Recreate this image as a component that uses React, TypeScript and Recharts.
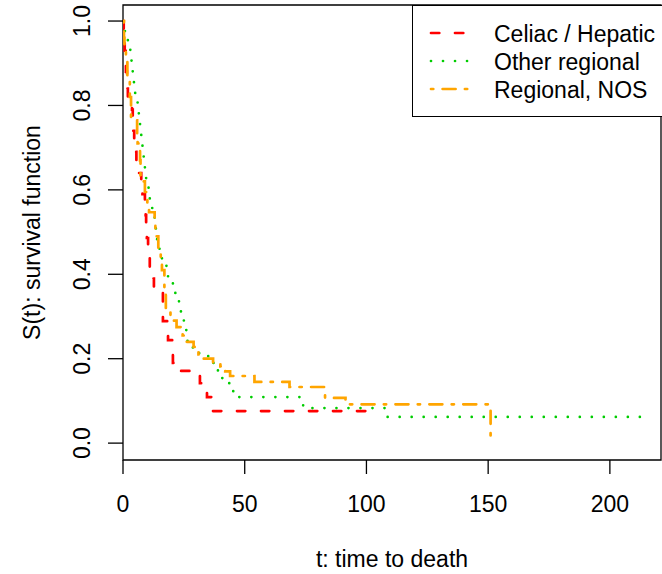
import { LineChart, Line, XAxis, YAxis, ReferenceArea } from 'recharts'

// Kaplan-Meier step estimates
const celiacT = [0, 0.3, 0.7, 1.2, 1.6, 2.0, 3.7, 4.0, 4.2, 4.6, 5.0, 5.5, 6.5, 7.5, 8.0, 9.0, 9.3, 9.5, 9.8, 10.3, 10.5, 11.0, 12.5, 12.7, 16.4, 18.5, 20.5, 22.0, 31.6, 34.5, 36.8, 100.2]
const celiacS = [1.0, 0.97, 0.93, 0.88, 0.84, 0.82, 0.79, 0.77, 0.74, 0.71, 0.69, 0.67, 0.64, 0.62, 0.59, 0.57, 0.54, 0.51, 0.486, 0.46, 0.44, 0.41, 0.39, 0.37, 0.289, 0.244, 0.19, 0.171, 0.142, 0.109, 0.076, 0.076]

const otherT = [0, 0.8, 2, 3, 3.5, 4, 4.5, 5, 6, 6.5, 7, 7.5, 8, 8.5, 9, 9.5, 10.5, 11, 12, 13, 13.5, 14, 15, 16, 18, 18.5, 20.5, 21.5, 23, 23.8, 25, 26, 26.5, 28.7, 35, 37.8, 39, 42, 44, 46.4, 74, 108, 213.8]
const otherS = [1.0, 0.97, 0.95, 0.92, 0.9, 0.87, 0.85, 0.82, 0.8, 0.77, 0.75, 0.72, 0.7, 0.67, 0.645, 0.62, 0.6, 0.57, 0.55, 0.52, 0.495, 0.47, 0.45, 0.42, 0.405, 0.38, 0.36, 0.34, 0.32, 0.3, 0.275, 0.25, 0.228, 0.213, 0.19, 0.176, 0.154, 0.142, 0.123, 0.109, 0.083, 0.062, 0.062]

const nosT = [0, 0.4, 0.6, 1.2, 1.8, 2.8, 3.3, 5.8, 6.0, 7.0, 7.2, 8.0, 9.0, 10.0, 10.7, 13.0, 13.3, 14.5, 15.5, 16.0, 17.0, 17.6, 19.5, 22.0, 24.5, 25.5, 29.0, 31.0, 33.0, 37.0, 40.0, 42.0, 44.0, 54.0, 68.4, 83.0, 91.4, 151.0]
const nosS = [1.0, 0.96, 0.93, 0.91, 0.86, 0.82, 0.765, 0.73, 0.71, 0.67, 0.635, 0.62, 0.595, 0.57, 0.547, 0.515, 0.49, 0.46, 0.43, 0.41, 0.36, 0.315, 0.29, 0.275, 0.255, 0.24, 0.228, 0.21, 0.2, 0.19, 0.182, 0.17, 0.159, 0.145, 0.133, 0.107, 0.092, 0.015]

const xTicks = [0, 50, 100, 150, 200]
const yTicks = [0, 0.2, 0.4, 0.6, 0.8, 1.0]
const xDomain = [0, 221]
const yDomain = [-0.04, 1.038]

const series = [
  { name: 'Celiac / Hepatic', t: celiacT, s: celiacS, color: '#ff0000', dash: '8.3 15.7' },
  { name: 'Other regional', t: otherT, s: otherS, color: '#00cd00', dash: '0.01 12' },
  { name: 'Regional, NOS', t: nosT, s: nosS, color: '#ffa500', dash: '2.3 9.3 13 9.3' },
]

const FONT = '"Liberation Sans", Arial, Helvetica, sans-serif'
const LW = 2.7

const toRows = (t: number[], s: number[]) => t.map((v, i) => ({ t: v, s: s[i] }))

const XTick = (props: any) => {
  const { x, y, payload } = props
  return (
    <g>
      <line x1={x} x2={x} y1={y} y2={y + 14} stroke="#000" strokeWidth={1.3} />
      <text x={x} y={y + 52} textAnchor="middle" fontSize={23} fontFamily={FONT} fill="#000">
        {payload.value}
      </text>
    </g>
  )
}

const YTick = (props: any) => {
  const { x, y, payload } = props
  const lx = x - 33
  return (
    <g>
      <line x1={x - 15} x2={x} y1={y} y2={y} stroke="#000" strokeWidth={1.3} />
      <text
        x={lx}
        y={y}
        transform={`rotate(-90 ${lx} ${y})`}
        textAnchor="middle"
        fontSize={23}
        fontFamily={FONT}
        fill="#000"
      >
        {payload.value.toFixed(1)}
      </text>
    </g>
  )
}

const XTitle = (props: any) => {
  const vb = props.viewBox
  return (
    <text x={vb.x + vb.width / 2} y={vb.y + 107} textAnchor="middle" fontSize={23} fontFamily={FONT} fill="#000">
      t: time to death
    </text>
  )
}

const YTitle = (props: any) => {
  const vb = props.viewBox
  const cx = 40
  const cy = vb.y + vb.height / 2
  return (
    <text x={cx} y={cy} transform={`rotate(-90 ${cx} ${cy})`} textAnchor="middle" fontSize={23} fontFamily={FONT} fill="#000">
      S(t): survival function
    </text>
  )
}

function KMLegend() {
  return (
    <div
      style={{
        position: 'absolute',
        left: 412,
        top: 5,
        width: 270,
        height: 112,
        boxSizing: 'border-box',
        border: '1.3px solid #000',
        background: '#fff',
      }}
    >
      <svg width={270} height={110} style={{ display: 'block' }}>
        {series.map((d, i) => (
          <g key={d.name}>
            <line
              x1={18}
              x2={55}
              y1={27 + i * 28}
              y2={27 + i * 28}
              stroke={d.color}
              strokeWidth={LW}
              strokeDasharray={d.dash}
              strokeLinecap="round"
            />
            <text x={81} y={35.5 + i * 28} fontSize={23} fontFamily={FONT} fill="#000">
              {d.name}
            </text>
          </g>
        ))}
      </svg>
    </div>
  )
}

export default function App() {
  return (
    <div style={{ position: 'absolute', left: 0, top: 0, width: 662, height: 574, background: '#fff', overflow: 'hidden' }}>
      <LineChart width={662} height={574} margin={{ top: 5, right: 1, bottom: 0, left: 0 }}>
        <ReferenceArea
          x1={xDomain[0]}
          x2={xDomain[1]}
          y1={yDomain[0]}
          y2={yDomain[1]}
          fill="none"
          stroke="#000"
          strokeWidth={1.3}
          ifOverflow="visible"
        />
        <XAxis
          type="number"
          dataKey="t"
          domain={xDomain}
          ticks={xTicks}
          allowDataOverflow
          height={114}
          axisLine={false}
          tickLine={false}
          tickSize={0}
          tickMargin={0}
          tick={<XTick />}
          interval={0}
          label={<XTitle />}
        />
        <YAxis
          type="number"
          domain={yDomain}
          ticks={yTicks}
          allowDataOverflow
          width={123}
          axisLine={false}
          tickLine={false}
          tickSize={0}
          tickMargin={0}
          tick={<YTick />}
          interval={0}
          label={<YTitle />}
        />
        {series.map((d) => (
          <Line
            key={d.name}
            data={toRows(d.t, d.s)}
            dataKey="s"
            type="stepAfter"
            stroke={d.color}
            strokeWidth={LW}
            strokeDasharray={d.dash}
            strokeLinecap="round"
            dot={false}
            activeDot={false}
            isAnimationActive={false}
          />
        ))}
      </LineChart>
      <KMLegend />
    </div>
  )
}
